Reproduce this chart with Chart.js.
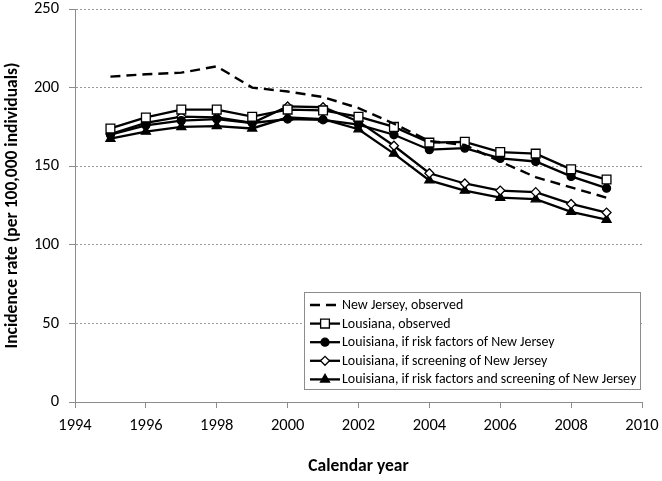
<!DOCTYPE html>
<html>
<head>
<meta charset="utf-8">
<script src="https://cdn.jsdelivr.net/npm/chart.js@4.4.0/dist/chart.umd.min.js"></script>
<style>
  html, body { margin: 0; padding: 0; background: #fff; }
  #wrap { width: 662px; height: 481px; }
</style>
</head>
<body>
<div id="wrap"><canvas id="incidenceChart" width="662" height="481"></canvas></div>
<script>
const years = [1995, 1996, 1997, 1998, 1999, 2000, 2001, 2002, 2003, 2004, 2005, 2006, 2007, 2008, 2009];
const njObserved = [207, 208.5, 209.5, 213.5, 200, 197.5, 194, 187, 177, 166, 163.5, 153, 143, 136.5, 130];
const laObserved = [174, 181, 186, 186, 181.5, 186, 185.5, 181.5, 175, 165, 165.5, 159, 158, 148, 141.5];
const laRiskNJ = [170, 176, 179, 180, 177.5, 180, 179.5, 176.5, 170, 160.5, 161.5, 155, 153, 143.5, 136];
const laScreenNJ = [170.5, 177.5, 181.5, 181, 177.5, 188, 187.5, 178.5, 163, 145.5, 139, 134.5, 133.5, 126, 120.5];
const laBothNJ = [167.5, 172, 175, 175.5, 174, 181, 180, 173.5, 158, 141, 134.5, 130, 129, 121, 116];
const seriesLabels = [
  'New Jersey, observed',
  'Lousiana, observed',
  'Louisiana, if risk factors of New Jersey',
  'Louisiana, if screening of New Jersey',
  'Louisiana, if risk factors and screening of New Jersey'
];
const xTitle = 'Calendar year';
const yTitle = 'Incidence rate (per 100,000 individuals)';

const FONT = 'Carlito, Calibri, Lato, sans-serif';
const AXIS_GREY = '#8c8c8c';

const toPoints = (arr) => arr.map((v, i) => ({ x: years[i], y: v }));

const mkSeries = (label, values, style, radius, fill) => ({
  label: label,
  data: toPoints(values),
  borderColor: '#000',
  borderWidth: 2.3,
  pointStyle: style,
  pointRadius: radius,
  pointBorderWidth: 1.3,
  pointBorderColor: '#000',
  pointBackgroundColor: fill,
  tension: 0
});

// legend sits inside the plot, bottom right, so draw it ourselves
const boxLegend = {
  id: 'boxLegend',
  afterDraw(chart) {
    const ctx = chart.ctx;
    const area = chart.chartArea;
    const right = area.right - 2, bottom = area.bottom - 13;
    const left = right - 336, top = bottom - 97;
    const rowH = 18.6;
    ctx.save();
    ctx.fillStyle = '#fff';
    ctx.fillRect(left, top, right - left, bottom - top);
    ctx.strokeStyle = '#8c8c8c';
    ctx.lineWidth = 1;
    ctx.strokeRect(left + 0.5, top + 0.5, right - left, bottom - top);

    chart.data.datasets.forEach((ds, i) => {
      const y = top + 13 + i * rowH;
      const x0 = left + 6, x1 = left + 36;
      ctx.strokeStyle = '#000';
      ctx.lineWidth = ds.borderWidth;
      ctx.setLineDash(ds.borderDash || []);
      ctx.beginPath();
      ctx.moveTo(x0, y);
      ctx.lineTo(x1, y);
      ctx.stroke();
      ctx.setLineDash([]);
      if (ds.pointRadius > 0) {
        ctx.fillStyle = ds.pointBackgroundColor;
        ctx.lineWidth = ds.pointBorderWidth;
        Chart.helpers.drawPoint(ctx, {
          pointStyle: ds.pointStyle,
          radius: ds.pointRadius,
          rotation: 0,
          borderWidth: ds.pointBorderWidth
        }, (x0 + x1) / 2, y);
      }
      ctx.fillStyle = '#000';
      ctx.font = '13.9px ' + FONT;
      ctx.textBaseline = 'middle';
      ctx.textAlign = 'left';
      ctx.fillText(ds.label, x1 + 2, y + 0.5);
    });
    ctx.restore();
  }
};

const data = {
  datasets: [
    Object.assign(mkSeries(seriesLabels[0], njObserved, false, 0, '#000'), { borderDash: [10, 6], borderWidth: 2.4 }),
    mkSeries(seriesLabels[1], laObserved, 'rect', 6.2, '#fff'),
    mkSeries(seriesLabels[2], laRiskNJ, 'circle', 4, '#000'),
    mkSeries(seriesLabels[3], laScreenNJ, 'rectRot', 4.5, '#fff'),
    mkSeries(seriesLabels[4], laBothNJ, 'triangle', 5.2, '#000')
  ]
};

const config = {
  type: 'line',
  data: data,
  options: {
    responsive: false,
    animation: false,
    layout: { padding: { left: 0, right: 20, top: 9, bottom: 0 } },
    plugins: {
      legend: { display: false },
      tooltip: { enabled: false }
    },
    scales: {
      x: {
        type: 'linear',
        min: 1994,
        max: 2010,
        afterFit: (scale) => {
          scale.height = 79;
          scale.paddingLeft = 0;
          scale.paddingRight = 0;
        },
        ticks: {
          stepSize: 2,
          color: '#000',
          padding: 8,
          maxRotation: 0,
          font: { family: FONT, size: 16.5 },
          callback: (v) => String(v)
        },
        grid: { drawOnChartArea: false, drawTicks: true, tickLength: 6, tickColor: AXIS_GREY },
        border: { display: true, color: AXIS_GREY, width: 1 },
        title: {
          display: true,
          text: xTitle,
          color: '#000',
          font: { family: FONT, size: 17.5, weight: 'bold' },
          padding: { top: 0, bottom: 4 }
        }
      },
      y: {
        min: 0,
        max: 250,
        afterFit: (scale) => {
          scale.width = 75;
          scale.paddingTop = 0;
          scale.paddingBottom = 0;
        },
        ticks: {
          stepSize: 50,
          color: '#000',
          padding: 10,
          font: { family: FONT, size: 16.5 }
        },
        grid: {
          color: '#9a9a9a',
          lineWidth: 1,
          drawTicks: true,
          tickLength: 6,
          tickColor: AXIS_GREY,
          tickBorderDash: []
        },
        border: { display: true, color: AXIS_GREY, width: 1, dash: [2, 2] },
        title: {
          display: true,
          text: yTitle,
          color: '#000',
          font: { family: FONT, size: 17.5, weight: 'bold' },
          padding: { top: 2, bottom: 0 }
        }
      }
    }
  },
  plugins: [boxLegend]
};

const incidenceChart = new Chart(document.getElementById('incidenceChart'), config);
</script>
</body>
</html>
